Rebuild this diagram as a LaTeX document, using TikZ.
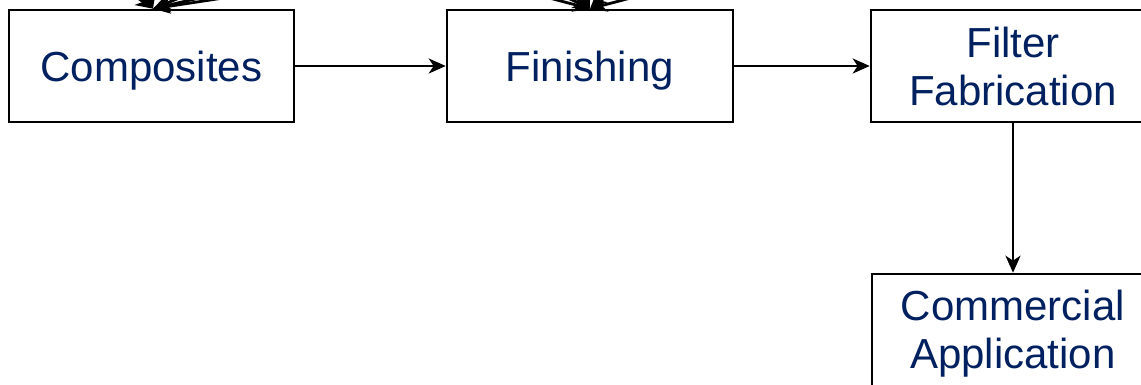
\documentclass[tikz,border=0pt]{standalone}
\usepackage{fontspec}
\setmainfont{Liberation Sans}
\usetikzlibrary{arrows.meta}
\definecolor{navy}{RGB}{0,32,96}
\tikzset{
  box/.style={draw=black, line width=2.6pt, fill=white, inner sep=0pt, align=center,
    text=navy, font=\fontsize{42}{48}\selectfont},
  arr/.style={draw=black, line width=2.8pt, -{Stealth[length=17pt,width=15pt,inset=5pt]}},
}
\begin{document}
\begin{tikzpicture}[x=1pt,y=-1pt]
\useasboundingbox (0,0) rectangle (1141,384);
\clip (0,0) rectangle (1141,384);
\fill[white] (0,0) rectangle (1141,384);
% sources of incoming arrows (outside the visible frame)
\coordinate (a1) at (84,-40);
\coordinate (a2) at (140,-40);
\coordinate (a3) at (273,-40);
\coordinate (a4) at (363,-40);
\coordinate (a5) at (473,-40);
\coordinate (b1) at (405,-40);
\coordinate (b2) at (490,-40);
\coordinate (b3) at (568,-40);
\coordinate (b4) at (640,-40);
\coordinate (b5) at (775,-40);
% boxes
\node[box, minimum width=285pt, minimum height=112pt, text depth=0pt] (comp) at (151.5,66) {Composites};
\node[box, minimum width=286pt, minimum height=112pt, text depth=0pt] (fin) at (590,66) {Finishing};
\node[box, minimum width=284pt, minimum height=112pt] (filt) at (1013,66) {Filter\\Fabrication};
\node[box, minimum width=282pt, minimum height=120pt] (comm) at (1013,334) {Commercial\\Application};
% incoming arrows from above
\foreach \s in {a1,a2,a3,a4,a5} \draw[arr] (\s) -- ([xshift=1.5pt]comp.north);
\foreach \s in {b1,b2,b3,b4,b5} \draw[arr] (\s) -- (fin.north);
% flow
\draw[arr] (comp) -- (fin);
\draw[arr] (fin) -- (filt);
\draw[arr] (filt) -- (comm);
\end{tikzpicture}
\end{document}
